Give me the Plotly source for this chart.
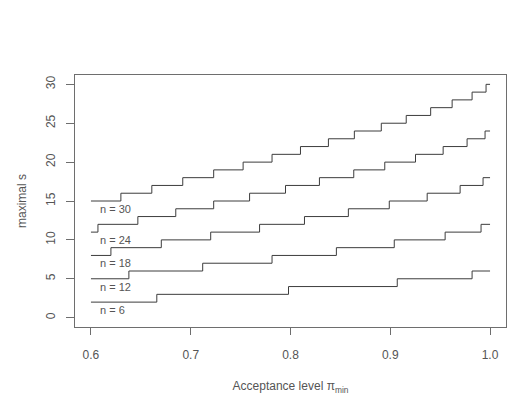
import plotly.graph_objects as go

# Step positions (acceptance level where maximal s increases) and values
n6_x = [0.6, 0.666, 0.798, 0.907, 0.982, 1.0]
n6_s = [2, 3, 4, 5, 6, 6]

n12_x = [0.6, 0.638, 0.712, 0.7815, 0.846, 0.904, 0.955, 0.991, 1.0]
n12_s = [5, 6, 7, 8, 9, 10, 11, 12, 12]

n18_x = [0.6, 0.620, 0.6705, 0.720, 0.769, 0.814, 0.858, 0.899, 0.937, 0.970, 0.993, 1.0]
n18_s = [8, 9, 10, 11, 12, 13, 14, 15, 16, 17, 18, 18]

n24_x = [0.6, 0.607, 0.647, 0.685, 0.723, 0.759, 0.795, 0.829, 0.8634, 0.8945,
         0.9253, 0.953, 0.977, 0.995, 1.0]
n24_s = [11, 12, 13, 14, 15, 16, 17, 18, 19, 20, 21, 22, 23, 24, 24]

n30_x = [0.6, 0.630, 0.661, 0.692, 0.723, 0.7525, 0.7815, 0.810, 0.838, 0.864,
         0.891, 0.916, 0.9405, 0.962, 0.982, 0.996, 1.0]
n30_s = [15, 16, 17, 18, 19, 20, 21, 22, 23, 24, 25, 26, 27, 28, 29, 30, 30]

labels = ["n = 6", "n = 12", "n = 18", "n = 24", "n = 30"]
label_x = 0.607
label_y = [1, 4, 7, 10, 14]

x_ticks = [0.6, 0.7, 0.8, 0.9, 1.0]
x_ticktext = ["0.6", "0.7", "0.8", "0.9", "1.0"]
y_ticks = [0, 5, 10, 15, 20, 25, 30]

series = [(n6_x, n6_s), (n12_x, n12_s), (n18_x, n18_s), (n24_x, n24_s), (n30_x, n30_s)]

FONT = "Liberation Sans, Arial, sans-serif"
TXT = "#555555"
LINE = "#3c3c3c"
BOX = "#6e6e6e"

fig = go.Figure()
for xs, ss in series:
    fig.add_trace(go.Scatter(x=xs, y=ss, mode="lines", line_shape="hv",
                             line=dict(color=LINE, width=1), showlegend=False,
                             hoverinfo="skip"))

for txt, ly in zip(labels, label_y):
    fig.add_annotation(x=label_x, y=ly, text=txt, showarrow=False, xanchor="left",
                       yanchor="middle", font=dict(family=FONT, size=11, color=TXT))

# the page body adds an 8px offset, so the figure is sized to fit the window
fig.update_layout(
    width=520, height=395,
    margin=dict(l=67, r=22, t=67, b=76, autoexpand=False),
    paper_bgcolor="white", plot_bgcolor="white",
    font=dict(family=FONT, size=12, color=TXT),
)
fig.update_xaxes(range=[0.584, 1.016], tickvals=x_ticks, ticktext=x_ticktext,
                 showgrid=False, zeroline=False, showline=True, mirror=True,
                 linecolor=BOX, linewidth=1, ticks="outside", ticklen=7,
                 tickcolor=BOX, tickfont=dict(family=FONT, size=12, color=TXT),
                 ticklabelstandoff=10,
                 title=dict(text="Acceptance level π<sub>min</sub>", standoff=20,
                            font=dict(family=FONT, size=12, color=TXT)),
                 automargin=False)
fig.update_yaxes(range=[-1.2, 31.2], tickvals=y_ticks,
                 showgrid=False, zeroline=False, showline=True, mirror=True,
                 linecolor=BOX, linewidth=1, ticks="outside", ticklen=8,
                 tickcolor=BOX, tickangle=-90,
                 tickfont=dict(family=FONT, size=12, color=TXT),
                 ticklabelstandoff=6,
                 title=dict(text="maximal s", standoff=15,
                            font=dict(family=FONT, size=12, color=TXT)),
                 automargin=False)

fig.write_html("out.html")
